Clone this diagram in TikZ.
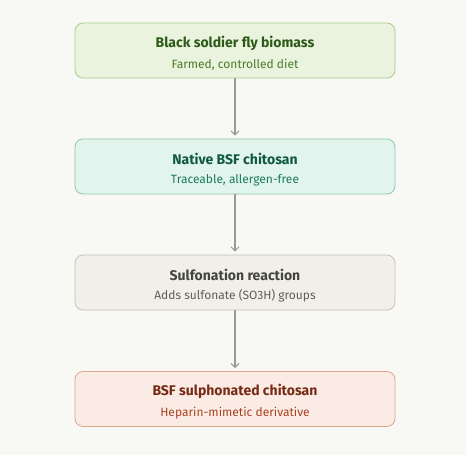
\documentclass[tikz,border=0pt]{standalone}
\usepackage{fontspec}
\setmainfont{Fira Sans}
\usetikzlibrary{arrows.meta}

\definecolor{bgpaper}{HTML}{F8F8F5}
\definecolor{grnfill}{HTML}{E9F3DE}
\definecolor{grnline}{HTML}{A9CB8C}
\definecolor{grntitle}{HTML}{2E5A17}
\definecolor{grnsub}{HTML}{4A7B28}
\definecolor{tealfill}{HTML}{E1F4ED}
\definecolor{tealline}{HTML}{8EC6AF}
\definecolor{tealtitle}{HTML}{0F5944}
\definecolor{tealsub}{HTML}{1C7A5E}
\definecolor{stonefill}{HTML}{F1EFE8}
\definecolor{stoneline}{HTML}{C4C1B8}
\definecolor{stonetitle}{HTML}{444441}
\definecolor{stonesub}{HTML}{5F5E5A}
\definecolor{rosefill}{HTML}{FBEBE5}
\definecolor{roseline}{HTML}{E0A590}
\definecolor{rosetitle}{HTML}{762B14}
\definecolor{rosesub}{HTML}{A8421F}
\definecolor{flowgray}{HTML}{999995}

\newcommand{\stagetext}[4]{%
  \fontsize{14}{17}\selectfont\color{#1}\bfseries\rule{0pt}{17pt}#2\\[7pt]
  \fontsize{12}{14}\selectfont\mdseries\color{#3}#4}

\begin{document}
\begin{tikzpicture}[x=1pt,y=-1pt,line cap=round,line join=round,
    stagebox/.style={draw, line width=0.8pt, rounded corners=8pt,
      minimum width=320pt, minimum height=55pt, inner sep=0pt,
      align=center},
    flow/.style={draw=flowgray, line width=1.2pt,
      -{Straight Barb[length=4pt,width=8pt,line width=1.1pt]}, shorten >=3pt}]
  % Paper
  \fill[bgpaper] (0,0) rectangle (466,455);
  \useasboundingbox (0,0) rectangle (466,455);

  % Stages, top to bottom
  \node[stagebox, fill=grnfill, draw=grnline] (biomass) at (235,50.5)
    {\stagetext{grntitle}{Black soldier fly biomass}{grnsub}{Farmed, controlled diet}};
  \node[stagebox, fill=tealfill, draw=tealline] (native) at (235,166.5)
    {\stagetext{tealtitle}{Native BSF chitosan}{tealsub}{Traceable, allergen-free}};
  \node[stagebox, fill=stonefill, draw=stoneline] (sulfon) at (235,282.5)
    {\stagetext{stonetitle}{Sulfonation reaction}{stonesub}{Adds sulfonate (SO3H) groups}};
  \node[stagebox, fill=rosefill, draw=roseline] (product) at (235,399)
    {\stagetext{rosetitle}{BSF sulphonated chitosan}{rosesub}{Heparin-mimetic derivative}};

  % Connectors
  \foreach \a/\b in {biomass/native, native/sulfon, sulfon/product}{
    \draw[flow] (\a) -- (\b);
  }
\end{tikzpicture}
\end{document}
